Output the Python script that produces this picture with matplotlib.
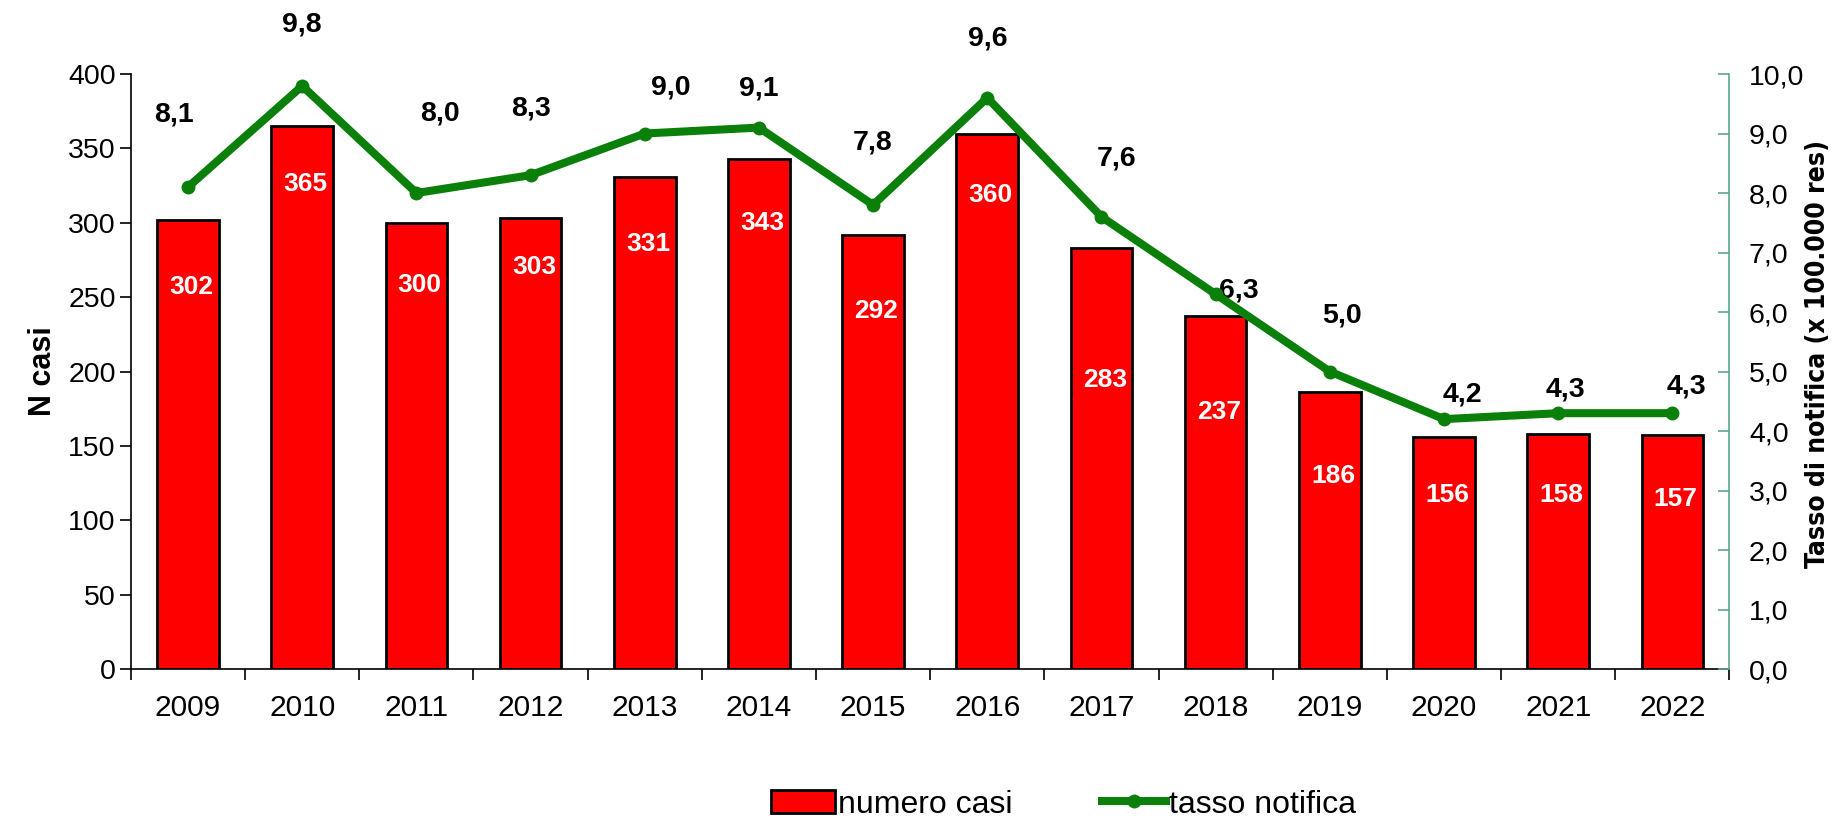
import matplotlib
matplotlib.use('Agg')
import matplotlib.pyplot as plt
from matplotlib.ticker import FixedLocator, FuncFormatter
import numpy as np

anni = ['2009', '2010', '2011', '2012', '2013', '2014', '2015',
        '2016', '2017', '2018', '2019', '2020', '2021', '2022']
numero_casi = [302, 365, 300, 303, 331, 343, 292, 360, 283, 237, 186, 156, 158, 157]
tasso_notifica = [8.1, 9.8, 8.0, 8.3, 9.0, 9.1, 7.8, 9.6, 7.6, 6.3, 5.0, 4.2, 4.3, 4.3]

# where the bar labels sit (left-axis units), as in the original chart
pos_etichette = [257, 326, 258, 270, 286, 300, 241, 319, 194, 173, 130, 117, 117, 114]
# offsets (points) of the rate labels from their markers
off_tasso = [(-10, 52), (0, 44), (17, 57), (0, 48), (19, 33), (0, 28), (0, 45),
             (0, 43), (11, 42), (17, 3), (9, 40), (13, 18), (5, 17), (10, 19)]

plt.rcParams['font.family'] = ['Liberation Sans', 'DejaVu Sans']

rosso = '#ff0000'
verde = '#0a800a'
asse_dx = '#5aa88c'

fig = plt.figure(figsize=(18.34, 8.27), dpi=100)
ax = fig.add_axes([0.0714, 0.191, 0.8716, 0.7195])
ax2 = ax.twinx()

x = np.arange(len(anni))
barre = ax.bar(x, numero_casi, width=0.54, color=rosso, edgecolor='black',
               linewidth=2.0, label='numero casi', zorder=2)
for xi, v, yl in zip(x, numero_casi, pos_etichette):
    ax.text(xi + 0.03, yl, str(v), ha='center', va='center', color='white',
            fontsize=19, fontweight='bold', zorder=3,
            bbox=dict(facecolor=rosso, edgecolor='none', pad=3))

linea, = ax2.plot(x, tasso_notifica, color=verde, lw=5.8, marker='o',
                  markersize=9, label='tasso notifica', zorder=4)
for xi, v, (dx, dy) in zip(x, tasso_notifica, off_tasso):
    ax2.annotate(f'{v:.1f}'.replace('.', ','), (xi, v), xytext=(dx, dy),
                 textcoords='offset points', ha='center', va='center',
                 fontsize=20.5, fontweight='bold', color='black')

ax.set_xlim(-0.5, len(anni) - 0.5)
ax.set_ylim(0, 400)
ax.set_yticks(range(0, 401, 50))
ax2.set_ylim(0, 10)
ax2.set_yticks(range(0, 11))
ax2.yaxis.set_major_formatter(FuncFormatter(lambda v, p: f'{v:.1f}'.replace('.', ',')))

ax.set_xticks(x)
ax.set_xticklabels(anni, fontsize=21.5)
ax.xaxis.set_minor_locator(FixedLocator(np.arange(-0.5, len(anni), 1.0)))
ax.tick_params(axis='x', which='major', length=0, pad=18)
ax.tick_params(axis='x', which='minor', length=8, width=1.2, direction='out')
ax.tick_params(axis='y', labelsize=20.5, length=8, width=1.2, direction='out', pad=3)
ax2.tick_params(axis='y', labelsize=20.5, length=8, width=1.2, direction='in',
                color=asse_dx, pad=14)

ax.spines['top'].set_visible(False)
ax2.spines['top'].set_visible(False)
ax.spines['right'].set_visible(False)
ax2.spines['left'].set_visible(False)
ax2.spines['bottom'].set_visible(False)
ax2.spines['right'].set_color(asse_dx)
ax2.spines['right'].set_linewidth(1.2)
ax.spines['left'].set_linewidth(1.2)
ax.spines['bottom'].set_linewidth(1.2)

ax.set_ylabel('N casi', fontsize=22, fontweight='bold', labelpad=7)
ax2.set_ylabel('Tasso di notifica (x 100.000 res)', fontsize=19,
               fontweight='bold', family=['DejaVu Sans'], fontstretch='condensed')
ax2.yaxis.set_label_coords(1.047, 0.53)

leg = fig.legend([barre, linea], ['numero casi', 'tasso notifica'],
                 loc='center', bbox_to_anchor=(0.58, 0.027), ncol=2, frameon=False,
                 prop={'size': 23}, handlelength=2.0,
                 handletextpad=0.1, columnspacing=2.8)

fig.savefig('out.png', dpi=100)
